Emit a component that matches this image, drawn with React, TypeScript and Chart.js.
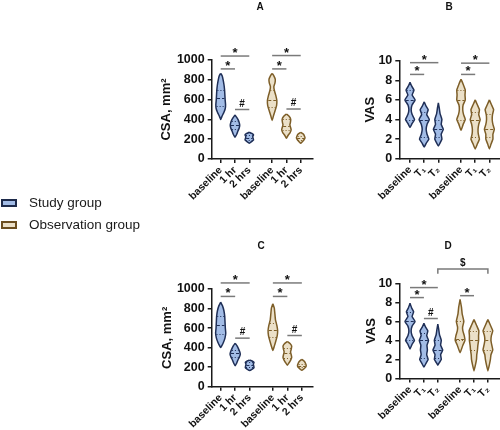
import React, { useEffect, useRef } from "react";
import { Chart, registerables } from "chart.js";

Chart.register(...registerables);

const FONT = "'Liberation Sans', Arial, Helvetica, sans-serif";

// ---------- categories / ticks ----------
const POSITIONS = [1, 2, 3, 4.6, 5.6, 6.6];
const CSA_LABELS = ["baseline", "1 hr", "2 hrs", "baseline", "1 hr", "2 hrs"];
const VAS_LABELS = ["baseline", "T₁", "T₂", "baseline", "T₁", "T₂"];
const CSA_TICKS = [0, 200, 400, 600, 800, 1000];
const VAS_TICKS = [0, 2, 4, 6, 8, 10];
const GROUPS = ["Study group", "Observation group"];

// ---------- violin profiles: [value, half-width] from top to bottom ----------
// Panel A (CSA)
const A_STUDY_BASE = [[866, 0], [840, 0.1], [800, 0.17], [750, 0.23], [700, 0.27], [650, 0.29], [600, 0.31], [550, 0.34], [510, 0.32], [470, 0.22], [435, 0.1], [400, 0]];
const A_STUDY_1HR = [[445, 0], [420, 0.12], [390, 0.24], [360, 0.31], [340, 0.33], [310, 0.29], [280, 0.2], [250, 0.12], [220, 0]];
const A_STUDY_2HRS = [[270, 0], [258, 0.18], [242, 0.3], [225, 0.24], [208, 0.27], [192, 0.3], [178, 0.18], [160, 0]];
const A_OBS_BASE = [[865, 0], [840, 0.12], [805, 0.22], [770, 0.2], [730, 0.12], [690, 0.16], [640, 0.26], [590, 0.33], [540, 0.31], [490, 0.21], [440, 0.1], [390, 0]];
const A_OBS_1HR = [[455, 0], [430, 0.2], [400, 0.3], [370, 0.28], [345, 0.24], [320, 0.29], [295, 0.33], [265, 0.25], [240, 0.12], [210, 0]];
const A_OBS_2HRS = [[270, 0], [252, 0.18], [232, 0.26], [212, 0.3], [192, 0.22], [172, 0.1], [158, 0]];
const A_MED = [620, 340, 215, 600, 330, 215];
const A_Q1 = [540, 300, 195, 530, 290, 195];
const A_Q3 = [700, 380, 245, 700, 400, 235];

// Panel B (VAS)
const B_STUDY_BASE = [[7.8, 0], [7.4, 0.12], [7, 0.28], [6.5, 0.15], [6, 0.36], [5.5, 0.15], [5, 0.08], [4.5, 0.15], [4, 0.32], [3.6, 0.15], [3.2, 0]];
const B_STUDY_T1 = [[5.8, 0], [5.4, 0.12], [5, 0.28], [4.5, 0.18], [4, 0.36], [3.5, 0.2], [3, 0.14], [2.5, 0.2], [2, 0.33], [1.6, 0.15], [1.2, 0]];
const B_STUDY_T2 = [[5.7, 0], [5.2, 0.06], [4.6, 0.12], [4, 0.25], [3.5, 0.2], [3, 0.35], [2.5, 0.2], [2, 0.25], [1.6, 0.12], [1.3, 0]];
const B_OBS_BASE = [[8.1, 0], [7.6, 0.15], [7, 0.3], [6.5, 0.28], [6, 0.3], [5.5, 0.15], [5, 0.12], [4.5, 0.18], [4, 0.3], [3.5, 0.15], [2.9, 0]];
const B_OBS_T1 = [[6, 0], [5.5, 0.15], [5, 0.3], [4.5, 0.25], [4, 0.35], [3.5, 0.25], [3, 0.2], [2.5, 0.22], [2, 0.3], [1.5, 0.15], [1, 0]];
const B_OBS_T2 = [[6, 0], [5.5, 0.15], [5, 0.3], [4.5, 0.22], [4, 0.2], [3.5, 0.25], [3, 0.35], [2.5, 0.25], [2, 0.25], [1.5, 0.12], [1, 0]];
const B_MED = [6, 4, 3, 6, 4, 3];
const B_Q1 = [4, 2.2, 2.2, 4, 2.2, 2.2];
const B_Q3 = [7, 4.8, 4, 7, 4.8, 4.6];

// Panel C (CSA)
const C_STUDY_BASE = [[865, 0], [830, 0.12], [780, 0.22], [720, 0.28], [660, 0.3], [600, 0.32], [550, 0.35], [500, 0.3], [450, 0.18], [400, 0]];
const C_STUDY_1HR = [[445, 0], [420, 0.12], [385, 0.24], [355, 0.32], [330, 0.35], [300, 0.28], [270, 0.18], [240, 0.1], [215, 0]];
const C_STUDY_2HRS = [[272, 0], [260, 0.22], [248, 0.3], [232, 0.25], [212, 0.28], [195, 0.3], [180, 0.18], [165, 0]];
const C_OBS_BASE = [[850, 0], [805, 0.1], [745, 0.14], [685, 0.18], [625, 0.28], [575, 0.33], [520, 0.3], [465, 0.2], [415, 0.1], [370, 0]];
const C_OBS_1HR = [[462, 0], [440, 0.2], [415, 0.3], [385, 0.27], [355, 0.22], [325, 0.27], [300, 0.3], [270, 0.22], [245, 0.12], [220, 0]];
const C_OBS_2HRS = [[280, 0], [262, 0.15], [240, 0.25], [215, 0.3], [195, 0.24], [180, 0.12], [168, 0]];
const C_MED = [630, 340, 220, 580, 340, 215];
const C_Q1 = [540, 300, 200, 510, 290, 200];
const C_Q3 = [720, 375, 250, 650, 400, 235];

// Panel D (VAS)
const D_STUDY_BASE = [[7.9, 0], [7.4, 0.12], [7, 0.26], [6.5, 0.15], [6, 0.36], [5.5, 0.15], [5, 0.08], [4.5, 0.15], [4, 0.32], [3.6, 0.15], [3.1, 0]];
const D_STUDY_T1 = [[5.8, 0], [5.4, 0.12], [5, 0.28], [4.5, 0.2], [4, 0.33], [3.5, 0.22], [3, 0.25], [2.5, 0.2], [2, 0.3], [1.6, 0.15], [1.2, 0]];
const D_STUDY_T2 = [[5.7, 0], [5.2, 0.06], [4.6, 0.12], [4, 0.25], [3.5, 0.2], [3, 0.35], [2.5, 0.2], [2, 0.25], [1.7, 0.12], [1.4, 0]];
const D_OBS_BASE = [[8.3, 0], [7.5, 0.1], [6.8, 0.15], [6, 0.27], [5.4, 0.18], [5, 0.2], [4.5, 0.3], [4, 0.35], [3.5, 0.2], [2.7, 0]];
const D_OBS_T1 = [[6.2, 0], [5.6, 0.18], [5, 0.35], [4.5, 0.33], [4, 0.33], [3.5, 0.28], [3, 0.25], [2.5, 0.2], [2, 0.18], [1.4, 0.1], [0.8, 0]];
const D_OBS_T2 = [[6.2, 0], [5.6, 0.18], [5, 0.35], [4.5, 0.25], [4, 0.22], [3.5, 0.28], [3, 0.35], [2.5, 0.22], [2, 0.18], [1.4, 0.1], [0.8, 0]];
const D_MED = [6, 4, 3, 4.2, 4, 4];
const D_Q1 = [4, 2.2, 2.2, 4, 3, 3];
const D_Q3 = [7, 4.8, 4, 6, 5, 5];

// ---------- significance brackets: [from index, to index, value, label, drop] ----------
const A_BRACKETS = [[0, 2, 1040, "*"], [0, 1, 910, "*"], [1, 2, 500, "#"], [3, 5, 1045, "*"], [3, 4, 910, "*"], [4, 5, 505, "#"]];
const B_BRACKETS = [[0, 2, 9.8, "*"], [0, 1, 8.6, "*"], [3, 5, 9.75, "*"], [3, 4, 8.6, "*"]];
const C_BRACKETS = [[0, 2, 1062, "*"], [0, 1, 924, "*"], [1, 2, 497, "#"], [3, 5, 1062, "*"], [3, 4, 924, "*"], [4, 5, 524, "#"]];
const D_BRACKETS = [[0, 2, 9.55, "*"], [0, 1, 8.5, "*"], [1, 2, 6.3, "#"], [3, 4, 8.7, "*"], [2, 5, 11.5, "$", 0.5]];

// ---------- colours ----------
const BLUE_FILL = "#a2bce6";
const BLUE_LINE = "#1f2f57";
const TAN_FILL = "#ebe0c8";
const TAN_LINE = "#7d5e28";
const AXIS = "#1a1a1a";
const BRACKET = "#7a7a7a";

type Prof = number[][];

function outline(pos: number, prof: Prof) {
  const right = prof.map(([v, w]) => ({ x: pos + w, y: v }));
  const left = prof.slice().reverse().map(([v, w]) => ({ x: pos - w, y: v }));
  return [...right, ...left.slice(1)];
}

function widthAt(prof: Prof, v: number) {
  for (let i = 0; i < prof.length - 1; i++) {
    const [v0, w0] = prof[i];
    const [v1, w1] = prof[i + 1];
    if (v <= v0 && v >= v1) {
      const t = v0 === v1 ? 0 : (v0 - v) / (v0 - v1);
      return w0 + (w1 - w0) * t;
    }
  }
  return 0;
}

const PANELS = [
  {
    key: "A", letter: "A", letterX: 260, letterY: 7,
    left: 120, top: 0, width: 200, height: 215,
    padTop: 60, padRight: 7, yWidth: 91.7, xHeight: 56, titlePad: 39,
    xMin: 0.37, xMax: 7.46, yMax: 1000, yTicks: CSA_TICKS, xLabels: CSA_LABELS, yTitle: "CSA, mm²",
    violins: [A_STUDY_BASE, A_STUDY_1HR, A_STUDY_2HRS, A_OBS_BASE, A_OBS_1HR, A_OBS_2HRS],
    med: A_MED, q1: A_Q1, q3: A_Q3, brackets: A_BRACKETS,
  },
  {
    key: "B", letter: "B", letterX: 449, letterY: 7,
    left: 320, top: 0, width: 180, height: 215,
    padTop: 60.7, padRight: 0, yWidth: 79.3, xHeight: 56.3, titlePad: 43,
    xMin: 0.244, xMax: 7.35, yMax: 10, yTicks: VAS_TICKS, xLabels: VAS_LABELS, yTitle: "VAS",
    violins: [B_STUDY_BASE, B_STUDY_T1, B_STUDY_T2, B_OBS_BASE, B_OBS_T1, B_OBS_T2],
    med: B_MED, q1: B_Q1, q3: B_Q3, brackets: B_BRACKETS,
  },
  {
    key: "C", letter: "C", letterX: 261, letterY: 246,
    left: 120, top: 215, width: 200, height: 215,
    padTop: 74, padRight: 7, yWidth: 91.7, xHeight: 43.3, titlePad: 40,
    xMin: 0.38, xMax: 7.37, yMax: 1000, yTicks: CSA_TICKS, xLabels: CSA_LABELS, yTitle: "CSA, mm²",
    violins: [C_STUDY_BASE, C_STUDY_1HR, C_STUDY_2HRS, C_OBS_BASE, C_OBS_1HR, C_OBS_2HRS],
    med: C_MED, q1: C_Q1, q3: C_Q3, brackets: C_BRACKETS,
  },
  {
    key: "D", letter: "D", letterX: 448, letterY: 246,
    left: 320, top: 215, width: 180, height: 215,
    padTop: 68.3, padRight: 0, yWidth: 79.3, xHeight: 51.5, titlePad: 44,
    xMin: 0.23, xMax: 7.47, yMax: 10, yTicks: VAS_TICKS, xLabels: VAS_LABELS, yTitle: "VAS",
    violins: [D_STUDY_BASE, D_STUDY_T1, D_STUDY_T2, D_OBS_BASE, D_OBS_T1, D_OBS_T2],
    med: D_MED, q1: D_Q1, q3: D_Q3, brackets: D_BRACKETS,
  },
];

function PanelChart({ p }: { p: any }) {
  const ref = useRef<HTMLCanvasElement>(null);
  useEffect(() => {
    const canvas = ref.current;
    if (!canvas) return;
    const datasets = p.violins.map((prof: Prof, i: number) => ({
      data: outline(POSITIONS[i], prof),
      showLine: true,
      fill: "shape",
      backgroundColor: i < 3 ? BLUE_FILL : TAN_FILL,
      borderColor: i < 3 ? BLUE_LINE : TAN_LINE,
      borderWidth: 1.5,
      pointRadius: 0,
      pointHoverRadius: 0,
      tension: 0.12,
    }));

    const overlay = {
      id: "overlay" + p.key,
      afterDatasetsDraw(chart: any) {
        const { ctx } = chart;
        const x = chart.scales.x;
        const y = chart.scales.y;
        ctx.save();
        // median & quartile lines
        p.violins.forEach((prof: Prof, i: number) => {
          const col = i < 3 ? BLUE_LINE : TAN_LINE;
          const lines: [number, number[]][] = [
            [p.med[i], [3, 2]],
            [p.q1[i], [1, 2]],
            [p.q3[i], [1, 2]],
          ];
          for (const [v, dash] of lines) {
            const w = widthAt(prof, v);
            if (w <= 0) continue;
            ctx.setLineDash(dash);
            ctx.strokeStyle = col;
            ctx.lineWidth = 1;
            ctx.beginPath();
            const py = Math.round(y.getPixelForValue(v)) + 0.5;
            ctx.moveTo(x.getPixelForValue(POSITIONS[i] - w * 0.85), py);
            ctx.lineTo(x.getPixelForValue(POSITIONS[i] + w * 0.85), py);
            ctx.stroke();
          }
        });
        ctx.setLineDash([]);
        // significance brackets
        for (const b of p.brackets) {
          const [i1, i2, v, label, drop] = b;
          const x1 = x.getPixelForValue(POSITIONS[i1]);
          const x2 = x.getPixelForValue(POSITIONS[i2]);
          const py = y.getPixelForValue(v);
          ctx.strokeStyle = BRACKET;
          ctx.lineWidth = 1.5;
          ctx.beginPath();
          if (drop) {
            const pd = y.getPixelForValue(v - drop);
            ctx.moveTo(x1, pd);
            ctx.lineTo(x1, py);
            ctx.lineTo(x2, py);
            ctx.lineTo(x2, pd);
          } else {
            ctx.moveTo(x1, py);
            ctx.lineTo(x2, py);
          }
          ctx.stroke();
          ctx.fillStyle = "#111";
          ctx.textAlign = "center";
          ctx.textBaseline = "alphabetic";
          if (label === "*") {
            ctx.font = `bold 13px ${FONT}`;
            ctx.fillText(label, (x1 + x2) / 2, py + 1);
          } else {
            ctx.font = `bold 10px ${FONT}`;
            ctx.fillText(label, (x1 + x2) / 2, py - 3);
          }
        }
        // panel letter
        ctx.fillStyle = "#111";
        ctx.font = `bold 10px ${FONT}`;
        ctx.textAlign = "center";
        ctx.textBaseline = "middle";
        ctx.fillText(p.letter, p.letterX - p.left, p.letterY - p.top);
        ctx.restore();
      },
    };

    const chart = new Chart(canvas, {
      type: "scatter",
      data: { datasets },
      options: {
        animation: false,
        responsive: false,
        events: [],
        layout: { padding: { left: 0, right: p.padRight, top: p.padTop, bottom: 0 } },
        plugins: {
          legend: { display: false },
          tooltip: { enabled: false },
          title: { display: false },
        },
        scales: {
          x: {
            type: "linear",
            min: p.xMin,
            max: p.xMax,
            afterBuildTicks: (s: any) => {
              s.ticks = POSITIONS.map((v) => ({ value: v }));
            },
            afterFit: (s: any) => {
              s.height = p.xHeight;
              s.paddingLeft = 0;
              s.paddingRight = 0;
            },
            ticks: {
              autoSkip: false,
              minRotation: 45,
              maxRotation: 45,
              padding: 1,
              color: "#111",
              font: { family: FONT, size: 10.5, weight: "bold" },
              callback: (_v: any, i: number) => p.xLabels[i],
            },
            grid: { drawOnChartArea: false, drawTicks: true, tickLength: 4, color: AXIS, lineWidth: 1.5 },
            border: { display: true, color: AXIS, width: 1.5 },
          },
          y: {
            type: "linear",
            min: 0,
            max: p.yMax,
            afterBuildTicks: (s: any) => {
              s.ticks = p.yTicks.map((v: number) => ({ value: v }));
            },
            afterFit: (s: any) => {
              s.width = p.yWidth;
              s.paddingTop = 0;
              s.paddingBottom = 0;
            },
            ticks: {
              padding: 3,
              color: "#111",
              font: { family: FONT, size: 12.5, weight: "bold" },
              callback: (v: any) => String(v),
            },
            title: {
              display: true,
              text: p.yTitle,
              color: "#111",
              font: { family: FONT, size: 13, weight: "bold" },
              padding: { top: p.titlePad, bottom: 0 },
            },
            grid: { drawOnChartArea: false, drawTicks: true, tickLength: 4, color: AXIS, lineWidth: 1.5 },
            border: { display: true, color: AXIS, width: 1.5 },
          },
        },
      } as any,
      plugins: [overlay],
    });
    return () => chart.destroy();
  }, []);
  return (
    <canvas
      ref={ref}
      width={p.width}
      height={p.height}
      style={{ position: "absolute", left: p.left, top: p.top, width: p.width, height: p.height }}
    />
  );
}

const LEGEND_FILLS = [BLUE_FILL, TAN_FILL];
const LEGEND_LINES = ["#1d2a4a", "#6b4e20"];

export default function App() {
  return (
    <div style={{ position: "fixed", left: 0, top: 0, width: 500, height: 430, background: "#fff", overflow: "hidden" }}>
      {PANELS.map((p) => (
        <PanelChart key={p.key} p={p} />
      ))}
      {GROUPS.map((g, i) => (
        <React.Fragment key={g}>
          <div
            style={{
              position: "absolute",
              left: 1,
              top: 198.5 + i * 22.5,
              width: 16,
              height: 8,
              boxSizing: "border-box",
              border: `2px solid ${LEGEND_LINES[i]}`,
              background: LEGEND_FILLS[i],
            }}
          />
          <div
            style={{
              position: "absolute",
              left: 29,
              top: 194.5 + i * 22.5,
              fontFamily: FONT,
              fontSize: 13.5,
              lineHeight: "16px",
              color: "#1a1a1a",
              whiteSpace: "nowrap",
            }}
          >
            {g}
          </div>
        </React.Fragment>
      ))}
    </div>
  );
}
